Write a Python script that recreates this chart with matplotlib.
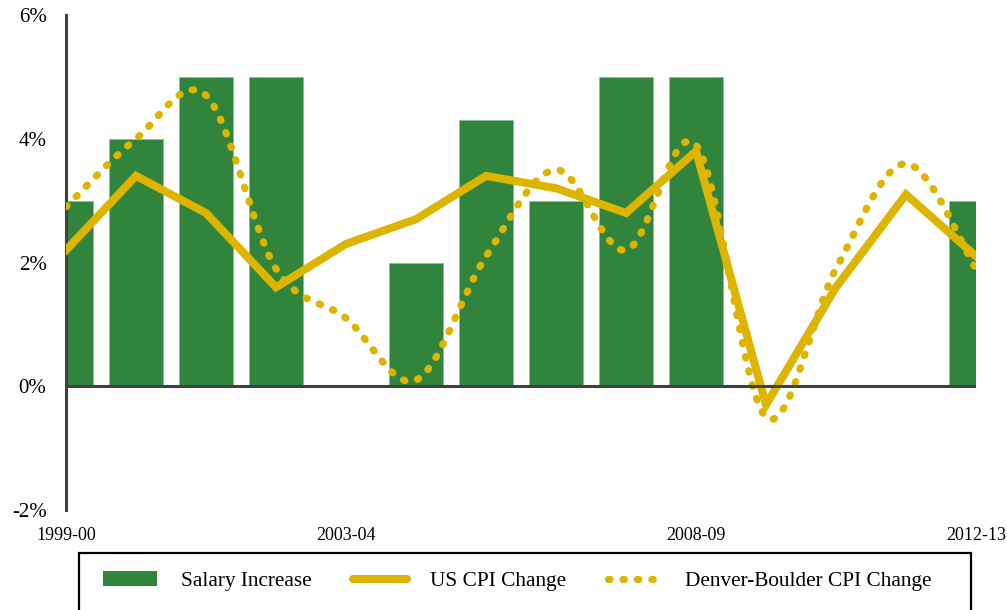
import numpy as np
import matplotlib
matplotlib.use('Agg')
import matplotlib.pyplot as plt
from matplotlib.path import Path
from matplotlib.patches import PathPatch, Rectangle, Patch
from matplotlib.lines import Line2D

plt.rcParams['font.family'] = ['Liberation Serif', 'DejaVu Serif']

years = ['1999-00', '2000-01', '2001-02', '2002-03', '2003-04', '2004-05', '2005-06',
         '2006-07', '2007-08', '2008-09', '2009-10', '2010-11', '2011-12', '2012-13']
salary = [3.0, 4.0, 5.0, 5.0, 0.0, 2.0, 4.3, 3.0, 5.0, 5.0, 0.0, 0.0, 0.0, 3.0]
us_cpi = [2.2, 3.4, 2.8, 1.6, 2.3, 2.7, 3.4, 3.2, 2.8, 3.8, -0.3, 1.6, 3.1, 2.1]
denver_cpi = [2.9, 4.0, 4.7, 1.9, 1.1, 0.1, 2.1, 3.5, 2.2, 3.9, -0.5, 1.9, 3.6, 1.9]
shown_ticks = ['1999-00', '2003-04', '2008-09', '2012-13']

green = '#31843b'
gold = '#ddb400'
axis_col = '#404040'
dots = (0, (0.2, 1.8))


def smooth_path(xs, ys):
    # excel-style smoothed line: catmull-rom segments as cubic beziers
    p = np.column_stack([xs, ys]).astype(float)
    verts = [p[0]]
    codes = [Path.MOVETO]
    n = len(p)
    for i in range(n - 1):
        p0 = p[i - 1] if i > 0 else p[i]
        p3 = p[i + 2] if i + 2 < n else p[i + 1]
        c1 = p[i] + (p[i + 1] - p0) / 6.0
        c2 = p[i + 1] - (p3 - p[i]) / 6.0
        verts += [c1, c2, p[i + 1]]
        codes += [Path.CURVE4] * 3
    return Path(verts, codes)


fig = plt.figure(figsize=(10.07, 6.10), dpi=100)
ax = fig.add_axes([66/1007, 1 - 510/610, (976 - 66)/1007, (510 - 15)/610])

x = np.arange(len(years))
ax.bar(x, salary, width=0.77, color=green, edgecolor='#8fbf94', linewidth=0.6, zorder=2)
ax.plot(x, us_cpi, color=gold, lw=5.8, solid_joinstyle='miter', zorder=3)
ax.add_patch(PathPatch(smooth_path(x, denver_cpi), fill=False, edgecolor=gold, lw=5.2,
                       linestyle=dots, capstyle='round', zorder=4))

ax.axhline(0, color=axis_col, lw=2.2, zorder=5)
ax.set_xlim(0, 13)
ax.set_ylim(-2, 6)
ax.set_yticks([-2, 0, 2, 4, 6])
ax.set_yticklabels(['-2%', '0%', '2%', '4%', '6%'], fontsize=15)
ax.set_xticks([years.index(t) for t in shown_ticks])
ax.set_xticklabels(shown_ticks, fontsize=13)
ax.tick_params(axis='both', length=0)
ax.tick_params(axis='y', pad=14)
ax.tick_params(axis='x', pad=12)
for s in ['top', 'right', 'bottom']:
    ax.spines[s].set_visible(False)
ax.spines['left'].set_color(axis_col)
ax.spines['left'].set_linewidth(2.2)

# legend box runs off the bottom of the figure
fig.add_artist(Rectangle((79/1007, -0.2), (971 - 79)/1007, 0.2 + 1 - 553/610,
                         transform=fig.transFigure, fill=False, ec='black', lw=1.6))
handles = [Patch(facecolor=green),
           Line2D([], [], color=gold, lw=5.8, solid_capstyle='round'),
           Line2D([], [], color=gold, lw=5.2, linestyle=dots, dash_capstyle='round')]
labels = ['Salary Increase', 'US CPI Change', 'Denver-Boulder CPI Change']
fig.legend(handles, labels, loc='center left', bbox_to_anchor=(103/1007, 1 - 581/610),
           ncol=3, frameon=False, fontsize=15.3, handlelength=2.55, handletextpad=1.1,
           columnspacing=1.95, borderpad=0, borderaxespad=0)

fig.savefig('out.png', dpi=100)
